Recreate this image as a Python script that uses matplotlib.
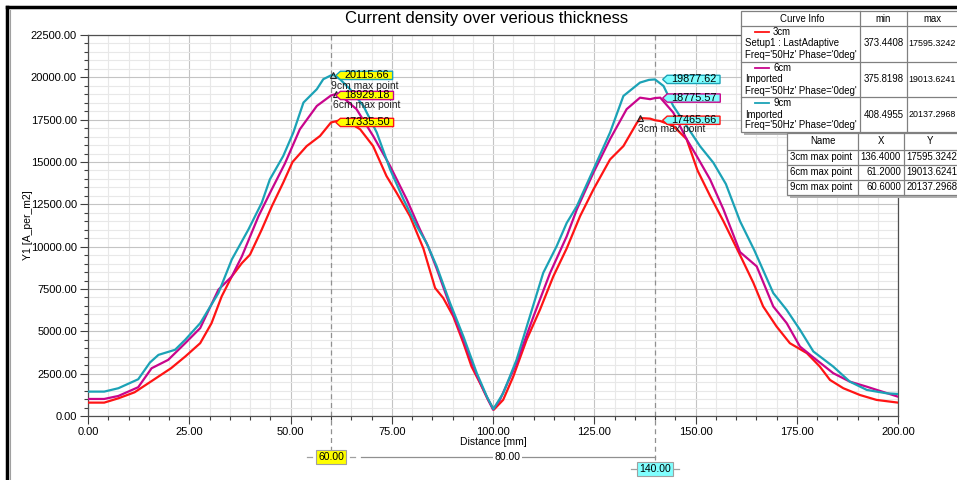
import matplotlib
matplotlib.use("Agg")
import matplotlib.pyplot as plt
from matplotlib.path import Path
from matplotlib.patches import Rectangle
from matplotlib.ticker import MultipleLocator, FormatStrFormatter
from matplotlib.transforms import blended_transform_factory

plt.rcParams['font.family'] = ['Liberation Sans', 'DejaVu Sans']

# ---------------------------------------------------------
# data
# ---------------------------------------------------------
x_3cm = [0, 4, 7.5, 11.5, 15.5, 20.5, 24, 27.7, 30.5, 33, 35.5, 38, 40, 42.9, 45.4,
         48.2, 50.5, 54, 57.3, 60, 62, 63.9, 67.2, 70.4, 73.7, 76.2, 79.5, 82.8,
         85.7, 87.7, 90.2, 92.7, 94.7, 96.8, 98.8, 100.2, 102.5, 105, 108.3, 111.6,
         114.9, 118.2, 121.5, 124.8, 128.9, 132.2, 135.5, 136.4, 138.8, 140, 141.3,
         144.5, 147.8, 150.5, 153.6, 156.9, 161, 164.3, 166.7, 170, 173.3, 177.5,
         180.7, 183.2, 186.5, 190.6, 194.7, 200]
y_3cm = [790, 790, 1045, 1400, 2030, 2820, 3510, 4300, 5480, 7060, 8240, 9030, 9530,
         11010, 12390, 13780, 15000, 15940, 16540, 17335, 17450, 17420, 16930, 15940,
         14170, 13180, 11800, 9900, 7560, 6970, 5880, 4300, 2920, 1940, 950, 373,
         950, 2330, 4500, 6280, 8250, 9900, 11800, 13380, 15150, 15940, 17300, 17595,
         17560, 17466, 17420, 17130, 16350, 14500, 13000, 11500, 9500, 7860, 6470,
         5290, 4300, 3710, 2920, 2130, 1640, 1240, 950, 790]

x_6cm = [0, 4, 7.5, 12.4, 15.7, 19.8, 24, 27.7, 32.2, 35.5, 38, 42.1, 45.2, 48.6,
         52.3, 56.5, 60, 61.2, 63, 66.3, 70.4, 74.6, 78.7, 82, 84, 86.1, 89.4, 92.7,
         96, 98.5, 100, 101.7, 105.8, 110, 114.1, 118.2, 120.7, 124.8, 128.9, 133,
         136.3, 138.8, 140, 141.3, 144.5, 147.8, 150.3, 153.6, 156.9, 161, 165.1,
         169.2, 172.5, 175.8, 179.9, 184, 188.1, 192.3, 200]
y_6cm = [1006, 1006, 1184, 1700, 2820, 3315, 4300, 5190, 7460, 8240, 9430, 11800,
         13300, 14900, 16930, 18310, 18929, 19013, 18800, 18120, 16540, 14760, 12790,
         11000, 10000, 8700, 6500, 4500, 2400, 1100, 376, 950, 3120, 5880, 8450,
         10610, 12200, 14370, 16350, 18120, 18800, 18710, 18776, 18800, 17920, 16350,
         15350, 13970, 12200, 9680, 8840, 6470, 5490, 4100, 3310, 2530, 2030, 1730,
         1140]

x_9cm = [0, 4, 7.5, 12.4, 15.3, 17.4, 21.5, 24, 27.7, 32.2, 35.5, 39.6, 42.9, 44.9,
         48.2, 50.7, 53.2, 56.5, 58.1, 60, 60.6, 62.2, 64.7, 68, 71.3, 74.6, 77.9,
         81.2, 83.6, 86.1, 89.4, 92.7, 96, 98.5, 100.1, 102.5, 105.8, 109.1, 112.4,
         115.7, 118.2, 120.7, 124.8, 128.9, 132.2, 136.3, 138.5, 140, 142.1, 144.5,
         147.8, 151.1, 154.4, 157.5, 161, 164.5, 169.2, 172.5, 175.8, 179.1, 184,
         188.1, 192.3, 197.2, 200]
y_9cm = [1440, 1440, 1640, 2170, 3160, 3610, 3910, 4500, 5480, 7260, 9240, 11010,
         12590, 13970, 15350, 16740, 18510, 19300, 19890, 20116, 20137, 19890, 19300,
         18310, 16740, 14560, 12790, 11200, 10220, 8840, 6670, 4690, 2530, 1140, 408,
         1340, 3310, 5880, 8450, 10020, 11400, 12390, 14560, 16740, 18900, 19690,
         19850, 19878, 19490, 18310, 17130, 15940, 14960, 13700, 11500, 9800, 7260,
         6270, 5090, 3810, 2920, 2030, 1540, 1340, 1300]

curve_names = ["3cm", "6cm", "9cm"]
curve_src = ["Setup1 : LastAdaptive", "Imported", "Imported"]
curve_freq = "Freq='50Hz' Phase='0deg'"
curve_min = ["373.4408", "375.8198", "408.4955"]
curve_max = ["17595.3242", "19013.6241", "20137.2968"]

maxpt_names = ["3cm max point", "6cm max point", "9cm max point"]
maxpt_x = [136.4, 61.2, 60.6]
maxpt_y = [17595.3242, 19013.6241, 20137.2968]

marker_x = [60, 140]
marker_vals = {60: [17335.50, 18929.18, 20115.66],
               140: [17465.66, 18775.57, 19877.62]}

colors = ['#ff1414', '#c8058c', '#1ba2b6']

# ---------------------------------------------------------
# figure
# ---------------------------------------------------------
W, H = 957, 480
fig = plt.figure(figsize=(W / 100, H / 100), dpi=100)
ax = fig.add_axes([88 / W, 1 - 416 / H, 810 / W, 381 / H])

# pixel overlay for frame / tables
ov = fig.add_axes([0, 0, 1, 1], zorder=5)
ov.set_xlim(0, W)
ov.set_ylim(H, 0)
ov.axis('off')
ov.patch.set_alpha(0)

for x, y, c in zip([x_3cm, x_6cm, x_9cm], [y_3cm, y_6cm, y_9cm], colors):
    ax.plot(x, y, color=c, lw=1.6, zorder=3)

ax.set_xlim(0, 200)
ax.set_ylim(0, 22500)
ax.xaxis.set_major_locator(MultipleLocator(25))
ax.xaxis.set_minor_locator(MultipleLocator(5))
ax.yaxis.set_major_locator(MultipleLocator(2500))
ax.yaxis.set_minor_locator(MultipleLocator(500))
ax.xaxis.set_major_formatter(FormatStrFormatter('%.2f'))
ax.yaxis.set_major_formatter(FormatStrFormatter('%.2f'))
ax.grid(which='major', color='#c4c4c4', lw=0.8)
ax.grid(which='minor', color='#e8e8e8', lw=0.8)
ax.set_axisbelow(True)
ax.tick_params(which='major', length=6, width=0.8, labelsize=8, pad=2, color='#404040')
ax.tick_params(which='minor', length=3, width=0.8, color='#404040')
for s in ax.spines.values():
    s.set_color('#505050')
    s.set_linewidth(0.9)

# marker lines (x from data, y in pixels)
trans = blended_transform_factory(ax.transData, ov.transData)
bottoms = {60: 450, 140: 462}
for mx in marker_x:
    ax.plot([mx, mx], [35, bottoms[mx]], transform=trans, color='#909090',
            lw=0.9, ls=(0, (4, 3)), clip_on=False, zorder=2)


def tag_box(x0, y0, width, height, mutation_size):
    px = 0.35 * mutation_size
    py = -0.08 * mutation_size
    x0 -= px
    y0 -= py
    w = width + 2 * px
    h = height + 2 * py
    tip = 0.55 * h
    verts = [(x0, y0), (x0 + w, y0), (x0 + w, y0 + h), (x0, y0 + h),
             (x0 - tip, y0 + h / 2), (x0, y0)]
    return Path(verts, closed=True)


box_fill = {60: '#ffff00', 140: '#80ffff'}
offs = {60: 9.5, 140: 11.5}
for mx in marker_x:
    for v, c in zip(marker_vals[mx], colors):
        ax.annotate(f"{v:.2f}", xy=(mx, v), xytext=(offs[mx], 0),
                    textcoords='offset points', ha='left', va='center',
                    fontsize=7.8, zorder=6,
                    bbox=dict(boxstyle=tag_box, fc=box_fill[mx], ec=c, lw=1))

# max point markers
for nm, mx, my in zip(maxpt_names, maxpt_x, maxpt_y):
    ax.plot(mx, my, marker='^', ms=5, mfc='none', mec='#202020', mew=0.8, zorder=5)
    ax.annotate(nm, xy=(mx, my), xytext=(-2, -4), textcoords='offset points',
                ha='left', va='top', fontsize=7.5, color='#202020', zorder=5)

# axis labels / title
ov.text(487, 19, "Current density over verious thickness", ha='center',
        va='center', fontsize=12)
ov.text(28, 225, "Y1 [A_per_m2]", rotation=90, ha='center', va='center',
        fontsize=7.5)
ov.text(493, 442, "Distance [mm]", ha='center', va='center', fontsize=7.5)

# marker values below the axis
label_y = {60: 457, 140: 469}
for mx in marker_x:
    ov.text(mx, label_y[mx], f"{mx:.2f}", transform=trans, ha='center',
            va='center', fontsize=7.5,
            bbox=dict(boxstyle='square,pad=0.2', fc=box_fill[mx], ec='#a0a0a0', lw=0.8))
    for d0, d1 in ((-5.9, -4.6), (4.6, 5.9)):
        ov.plot([mx + d0, mx + d1], [label_y[mx], label_y[mx]], transform=trans,
                color='#a0a0a0', lw=0.9)
ov.plot([67.5, 140], [457, 457], transform=trans, color='#909090', lw=0.9)
ov.text(103.5, 457, f"{marker_x[1] - marker_x[0]:.2f}", transform=trans,
        ha='center', va='center', fontsize=7.5,
        bbox=dict(boxstyle='square,pad=0.15', fc='white', ec='none'))

# window frame
ov.plot([6.5, 6.5], [7, H], color='black', lw=2.5)
ov.plot([6.5, W], [7, 7], color='black', lw=2.5)
ov.plot([9.5, 9.5], [10, H], color='#a0a0a0', lw=0.8)

# ---------------------------------------------------------
# curve info table
# ---------------------------------------------------------
edge = '#808080'
fs = 6.9
tx = [741, 860, 907, 962]
ty = [11, 26, 62, 97, 132]
ov.add_patch(Rectangle((tx[0] + 3, ty[0] + 3), tx[-1] - tx[0], ty[-1] - ty[0],
                       fc='#b0b0b0', ec='none', zorder=1))
ov.add_patch(Rectangle((tx[0], ty[0]), tx[-1] - tx[0], ty[-1] - ty[0],
                       fc='white', ec=edge, lw=0.9, zorder=2))
for yy in ty[1:-1]:
    ov.plot([tx[0], tx[-1]], [yy, yy], color=edge, lw=0.9, zorder=3)
for xx in tx[1:-1]:
    ov.plot([xx, xx], [ty[0], ty[-1]], color=edge, lw=0.9, zorder=3)
ov.text(802, 18.5, "Curve Info", ha='center', va='center', fontsize=fs, zorder=4)
ov.text(883.5, 18.5, "min", ha='center', va='center', fontsize=fs, zorder=4)
ov.text(932, 18.5, "max", ha='center', va='center', fontsize=fs, zorder=4)
for i in range(3):
    top = ty[i + 1]
    ov.plot([755, 769], [top + 6, top + 6], color=colors[i], lw=1.3, zorder=4)
    ov.text(773, top + 6, curve_names[i], ha='left', va='center', fontsize=fs, zorder=4)
    ov.text(745, top + 17.5, curve_src[i], ha='left', va='center', fontsize=fs, zorder=4)
    ov.text(745, top + 28.5, curve_freq, ha='left', va='center', fontsize=fs, zorder=4)
    ov.text(883.5, top + 17.5, curve_min[i], ha='center', va='center', fontsize=fs, zorder=4)
    ov.text(908.5, top + 17.5, curve_max[i], ha='left', va='center', fontsize=6.4, zorder=4)

# max point table
sx = [787, 858, 904, 962]
sy = [133, 149.5, 164.8, 179.8, 195]
ov.add_patch(Rectangle((sx[0] + 3, sy[0] + 3), sx[-1] - sx[0], sy[-1] - sy[0],
                       fc='#b0b0b0', ec='none', zorder=1))
ov.add_patch(Rectangle((sx[0], sy[0]), sx[-1] - sx[0], sy[-1] - sy[0],
                       fc='white', ec=edge, lw=0.9, zorder=2))
for yy in sy[1:-1]:
    ov.plot([sx[0], sx[-1]], [yy, yy], color=edge, lw=0.9, zorder=3)
for xx in sx[1:-1]:
    ov.plot([xx, xx], [sy[0], sy[-1]], color=edge, lw=0.9, zorder=3)
ov.text(823, 141.5, "Name", ha='center', va='center', fontsize=fs, zorder=4)
ov.text(881, 141.5, "X", ha='center', va='center', fontsize=fs, zorder=4)
ov.text(930, 141.5, "Y", ha='center', va='center', fontsize=fs, zorder=4)
for i in range(3):
    yc = (sy[i + 1] + sy[i + 2]) / 2
    ov.text(790, yc, maxpt_names[i], ha='left', va='center', fontsize=fs, zorder=4)
    ov.text(901, yc, f"{maxpt_x[i]:.4f}", ha='right', va='center', fontsize=fs, zorder=4)
    ov.text(906.5, yc, f"{maxpt_y[i]:.4f}", ha='left', va='center', fontsize=fs, zorder=4)

fig.savefig("out.png", dpi=100)
